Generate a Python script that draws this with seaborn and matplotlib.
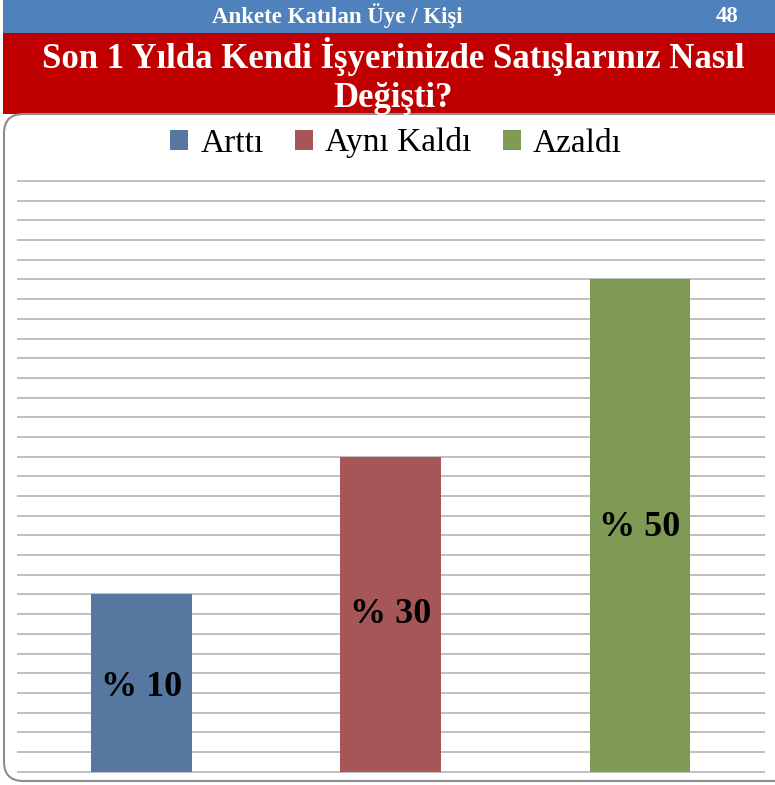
import matplotlib
matplotlib.use("Agg")
import matplotlib.pyplot as plt
import seaborn as sns
import pandas as pd
from matplotlib.patches import FancyBboxPatch, Rectangle, Patch

categories = ["Arttı", "Aynı Kaldı", "Azaldı"]
values = [9, 16, 25]
bar_labels = ["% 10", "% 30", "% 50"]
colors = ["#56779F", "#A65656", "#7E9A55"]
header_text = "Ankete Katılan Üye / Kişi"
header_number = "48"
title_text = "Son 1 Yılda Kendi İşyerinizde Satışlarınız Nasıl\nDeğişti?"

W, H = 775, 785
sns.set_theme(style="white")
plt.rcParams["font.family"] = ["Liberation Serif", "DejaVu Serif"]
plt.rcParams["text.color"] = "black"

fig = plt.figure(figsize=(W / 100, H / 100), dpi=100)
fig.patch.set_facecolor("white")

def fx(px):
    return px / W

def fy(py):
    return 1 - py / H

# header bands
fig.patches.append(Rectangle((fx(3), fy(33)), fx(772), 33 / H, transform=fig.transFigure,
                             facecolor="#4F81BD", edgecolor="none", zorder=-2))
fig.patches.append(Rectangle((fx(3), fy(114)), fx(772), 81 / H, transform=fig.transFigure,
                             facecolor="#C00000", edgecolor="none", zorder=-2))
# white panel
fig.patches.append(FancyBboxPatch((fx(4), fy(781)), fx(800), (781 - 114) / H,
                                  boxstyle="round,pad=0,rounding_size=0.025",
                                  transform=fig.transFigure, facecolor="white",
                                  edgecolor="#8C8C8C", linewidth=1.5, zorder=-1,
                                  mutation_aspect=W / H))

fig.text(fx(337), fy(16), header_text, color="white", fontsize=16.5, fontweight="bold",
         ha="center", va="center")
fig.text(fx(727), fy(16), header_number, color="white", fontsize=16.5, fontweight="bold",
         ha="center", va="center")
fig.text(fx(393), fy(76), title_text, color="white", fontsize=25, fontweight="bold",
         ha="center", va="center", linespacing=1.22)

step = 19.7
ax = fig.add_axes([fx(17), fy(771.7 + 0.1 * step), fx(764.6 - 17),
                   (771.7 - 181 + 0.2 * step) / H])
ax.set_zorder(1)
ax.set_facecolor("none")

df = pd.DataFrame({"cat": categories, "val": values})
sns.barplot(data=df, x="cat", y="val", hue="cat", palette=colors, width=0.405,
            ax=ax, legend=False, saturation=1, zorder=3, edgecolor="none", linewidth=0)

ax.set_ylim(-0.1, 30.1)
ax.set_yticks(range(0, 31))
ax.yaxis.grid(True, color="#BFBFBF", linewidth=1.4, zorder=0)
ax.set_axisbelow(True)
ax.set_xlabel("")
ax.set_ylabel("")
ax.set_xticklabels([])
ax.set_yticklabels([])
ax.tick_params(left=False, bottom=False)
for s in ax.spines.values():
    s.set_visible(False)
ax.set_xlim(-0.5, 2.5)

label_y = [4.3, 8.0, 12.4]
for i, (lab, ly) in enumerate(zip(bar_labels, label_y)):
    ax.text(i, ly, lab, ha="center", va="center", fontsize=26, fontweight="bold",
            color="black", zorder=5)

handles = [Patch(facecolor=c, edgecolor="none") for c in colors]
leg = fig.legend(handles, categories, loc="center", bbox_to_anchor=(fx(396), fy(143)),
                 ncol=3, frameon=False, fontsize=24, handlelength=0.55, handleheight=0.55,
                 handletextpad=0.35, columnspacing=0.95, borderaxespad=0)
for t in leg.get_texts():
    t.set_color("black")

fig.savefig("out.png", dpi=100, facecolor="white")
